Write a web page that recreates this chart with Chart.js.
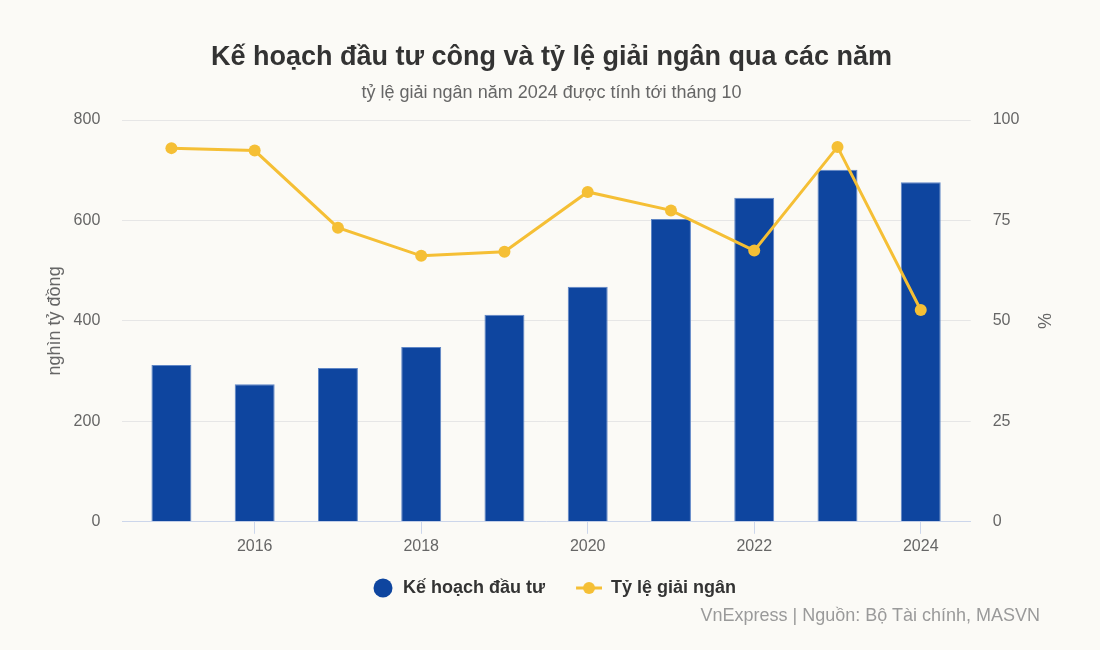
<!DOCTYPE html>
<html>
<head>
<meta charset="utf-8">
<script src="https://cdn.jsdelivr.net/npm/chart.js@4"></script>
<style>
  html, body { margin: 0; padding: 0; background: #fbfaf6; }
  #wrap { position: relative; width: 1100px; height: 650px; }
  #source {
    position: absolute; right: 60px; top: 605px; line-height: 22px;
    font: 18px "Liberation Sans", Arial, sans-serif; color: #9a9a9a;
  }
</style>
</head>
<body>
<div id="wrap">
  <canvas id="investChart" width="1100" height="650"></canvas>
  <div id="source">VnExpress | Nguồn: Bộ Tài chính, MASVN</div>
</div>
<script>
  "use strict";

  // Data
  const years = [2015, 2016, 2017, 2018, 2019, 2020, 2021, 2022, 2023, 2024];
  const planValues = [312, 274, 306, 348, 412, 468, 603, 645, 701, 676];
  const disbursementRates = [93.0, 92.4, 73.2, 66.2, 67.2, 82.1, 77.5, 67.5, 93.3, 52.7];
  const leftTicks = [0, 200, 400, 600, 800];
  const rightTicks = [0, 25, 50, 75, 100];

  const BLUE = "#0e459f";
  const YELLOW = "#f5bf35";
  const FONT = "'Liberation Sans', Arial, sans-serif";
  const ICON_W = 37;

  // Legend icons (same width so the legend boxes line up)
  function circleIcon(color) {
    const c = document.createElement("canvas");
    c.width = ICON_W; c.height = 20;
    const g = c.getContext("2d");
    g.fillStyle = color;
    g.beginPath(); g.arc(ICON_W - 11, 10, 9.5, 0, Math.PI * 2); g.fill();
    return c;
  }
  function lineIcon(color) {
    const c = document.createElement("canvas");
    c.width = ICON_W; c.height = 14;
    const g = c.getContext("2d");
    g.strokeStyle = color; g.lineWidth = 3;
    g.beginPath(); g.moveTo(11, 7); g.lineTo(ICON_W, 7); g.stroke();
    g.fillStyle = color;
    g.beginPath(); g.arc(24, 7, 6, 0, Math.PI * 2); g.fill();
    return c;
  }
  const legendIcons = [circleIcon(BLUE), lineIcon(YELLOW)];

  const ctx = document.getElementById("investChart").getContext("2d");

  new Chart(ctx, {
    data: {
      datasets: [
        {
          type: "bar",
          label: "Kế hoạch đầu tư",
          data: years.map((y, i) => ({ x: y, y: planValues[i] })),
          backgroundColor: BLUE,
          borderColor: "#5f86c6",
          borderWidth: 1,
          barPercentage: 0.6,
          categoryPercentage: 0.8,
          yAxisID: "y",
          order: 1,
        },
        {
          type: "line",
          label: "Tỷ lệ giải ngân",
          data: years.map((y, i) => ({ x: y, y: disbursementRates[i] })),
          borderColor: YELLOW,
          backgroundColor: YELLOW,
          borderWidth: 3,
          pointRadius: 6,
          pointHoverRadius: 7,
          pointBorderWidth: 0,
          tension: 0,
          yAxisID: "y1",
          order: 0,
        },
      ],
    },
    options: {
      responsive: false,
      animation: false,
      layout: { padding: { left: 41, right: 38, bottom: 43 } },
      plugins: {
        title: {
          display: true,
          text: "Kế hoạch đầu tư công và tỷ lệ giải ngân qua các năm",
          color: "#333333",
          font: { family: FONT, size: 27, weight: "bold" },
          padding: { top: 41, bottom: 9 },
        },
        subtitle: {
          display: true,
          text: "tỷ lệ giải ngân năm 2024 được tính tới tháng 10",
          color: "#666666",
          font: { family: FONT, size: 18 },
          padding: { top: 0, bottom: 16 },
        },
        legend: {
          position: "bottom",
          fullSize: false,
          labels: {
            usePointStyle: true,
            pointStyleWidth: ICON_W,
            padding: 20,
            color: "#333333",
            font: { family: FONT, size: 18, weight: "bold" },
            generateLabels: function (chart) {
              const items = Chart.defaults.plugins.legend.labels.generateLabels(chart);
              items.forEach((item) => {
                item.pointStyle = legendIcons[item.datasetIndex];
              });
              return items.sort((a, b) => a.datasetIndex - b.datasetIndex);
            },
          },
        },
        tooltip: { enabled: true },
      },
      scales: {
        x: {
          type: "linear",
          min: 2014.41,
          max: 2024.6,
          offset: false,
          afterBuildTicks: function (scale) {
            scale.ticks = years
              .filter((y) => y % 2 === 0)
              .map((y) => ({ value: y }));
          },
          ticks: {
            color: "#666666",
            font: { family: FONT, size: 16 },
            padding: 3,
            callback: (v) => String(v),
          },
          grid: {
            offset: false,
            drawOnChartArea: false,
            drawTicks: true,
            tickLength: 12,
            color: "#ccd6eb",
            tickColor: "#ccd6eb",
          },
          border: { color: "#ccd6eb", width: 1 },
        },
        y: {
          position: "left",
          min: 0,
          max: 800,
          afterBuildTicks: function (scale) {
            scale.ticks = leftTicks.map((v) => ({ value: v }));
          },
          ticks: {
            color: "#666666",
            font: { family: FONT, size: 16 },
            padding: 4,
          },
          grid: {
            color: "#e6e6e6",
            drawTicks: true,
            tickLength: 18,
            tickColor: "rgba(0,0,0,0)",
          },
          border: { display: false },
          title: {
            display: true,
            text: "nghìn tỷ đồng",
            color: "#666666",
            font: { family: FONT, size: 18 },
            padding: 3.5,
          },
        },
        y1: {
          position: "right",
          min: 0,
          max: 100,
          afterBuildTicks: function (scale) {
            scale.ticks = rightTicks.map((v) => ({ value: v }));
          },
          ticks: {
            color: "#666666",
            font: { family: FONT, size: 16 },
            padding: 4,
          },
          grid: {
            drawOnChartArea: false,
            drawTicks: true,
            tickLength: 18,
            tickColor: "rgba(0,0,0,0)",
          },
          border: { display: false },
          title: {
            display: true,
            text: "%",
            color: "#666666",
            font: { family: FONT, size: 18 },
            padding: 8.5,
          },
        },
      },
    },
  });
</script>
</body>
</html>
